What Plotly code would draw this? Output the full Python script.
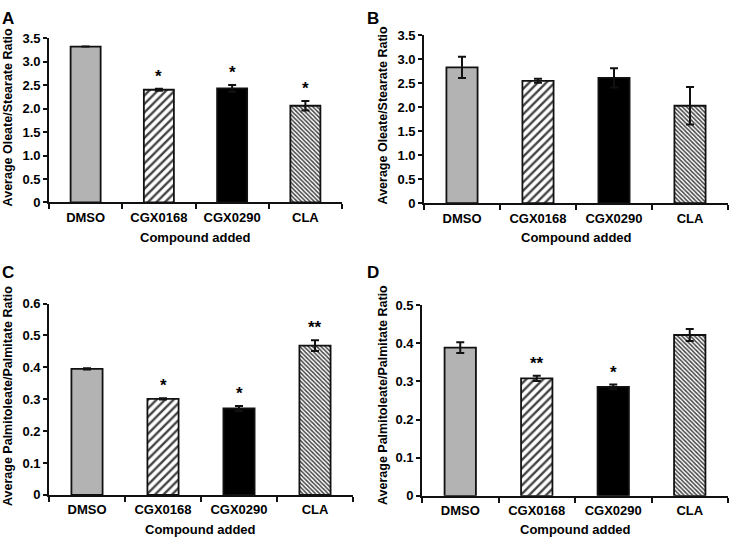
import plotly.graph_objects as go

categories = ["DMSO", "CGX0168", "CGX0290", "CLA"]

a_values = [3.32, 2.40, 2.43, 2.06]
a_errors = [0.0, 0.02, 0.07, 0.10]
a_stars = ["", "*", "*", "*"]

b_values = [2.83, 2.55, 2.61, 2.03]
b_errors = [0.22, 0.04, 0.20, 0.39]
b_stars = ["", "", "", ""]

c_values = [0.395, 0.301, 0.271, 0.468]
c_errors = [0.002, 0.002, 0.008, 0.017]
c_stars = ["", "*", "*", "**"]

d_values = [0.389, 0.308, 0.286, 0.422]
d_errors = [0.014, 0.007, 0.006, 0.016]
d_stars = ["", "**", "*", ""]

oleate_ticks = [0, 0.5, 1.0, 1.5, 2.0, 2.5, 3.0, 3.5]
oleate_ticktext = ["0", "0.5", "1.0", "1.5", "2.0", "2.5", "3.0", "3.5"]
palm_c_ticks = [0, 0.1, 0.2, 0.3, 0.4, 0.5, 0.6]
palm_c_ticktext = ["0", "0.1", "0.2", "0.3", "0.4", "0.5", "0.6"]
palm_d_ticks = [0, 0.1, 0.2, 0.3, 0.4, 0.5]
palm_d_ticktext = ["0", "0.1", "0.2", "0.3", "0.4", "0.5"]

panel_letters = ["A", "B", "C", "D"]
y_titles = ["Average Oleate/Stearate Ratio", "Average Oleate/Stearate Ratio",
            "Average Palmitoleate/Palmitate Ratio", "Average Palmitoleate/Palmitate Ratio"]
x_title = "Compound added"

W, H = 730, 545
FONT = "Liberation Sans, Arial, sans-serif"

fill_colors = ["#b3b3b3", "white", "black", "white"]
pattern_shapes = ["", "/", "", "\\"]
pattern_sizes = [8, 6, 8, 3]
pattern_solidity = [0.3, 0.4, 0.3, 0.5]

# pixel geometry of each panel: (x0, x1, ytop, ybottom)
panels_px = [
    (49, 342, 32, 201),
    (424, 728, 29, 201.7),
    (49, 353, 305, 501.7),
    (422, 728, 306.7, 502.7),
]
ranges = [(0, 3.5), (0, 3.5), (0, 0.6), (0, 0.5)]
tickvals = [oleate_ticks, oleate_ticks, palm_c_ticks, palm_d_ticks]
ticktexts = [oleate_ticktext, oleate_ticktext, palm_c_ticktext, palm_d_ticktext]
datasets = [
    (a_values, a_errors, a_stars),
    (b_values, b_errors, b_stars),
    (c_values, c_errors, c_stars),
    (d_values, d_errors, d_stars),
]
ytitle_px = [(8, 113.5), (383, 111.5), (8, 400), (383, 399)]
letter_px = [(0, 0), (365, 0), (0, 261), (365, 261)]
xtitle_py = [237, 237, 537, 537]

fig = go.Figure()
annotations = []
layout = {}

for i in range(4):
    vals, errs, stars = datasets[i]
    suffix = "" if i == 0 else str(i + 1)
    xa = "x" + suffix
    ya = "y" + suffix
    fig.add_trace(go.Bar(
        x=categories, y=vals, xaxis=xa, yaxis=ya,
        width=0.41,
        marker=dict(
            color=fill_colors,
            line=dict(color="#111", width=1.8),
            pattern=dict(shape=pattern_shapes, size=pattern_sizes,
                         solidity=pattern_solidity, fgcolor="black",
                         fgopacity=1, bgcolor=fill_colors, fillmode="overlay"),
        ),
        error_y=dict(type="data", array=errs, visible=True,
                     color="#111", thickness=2, width=4),
        showlegend=False, hoverinfo="skip",
    ))
    x0, x1, yt, yb = panels_px[i]
    layout["xaxis" + suffix] = dict(
        domain=[x0 / W, x1 / W], anchor=ya,
        type="category", range=[-0.5, 3.5],
        showline=True, linecolor="#111", linewidth=1.8,
        ticks="outside", tickson="boundaries", ticklen=5, tickwidth=1.8,
        tickcolor="#111",
        tickfont=dict(family=FONT, size=13, color="black", weight="bold"),
        showgrid=False, zeroline=False, ticklabelstandoff=2,
    )
    layout["yaxis" + suffix] = dict(
        domain=[1 - yb / H, 1 - yt / H], anchor=xa,
        range=list(ranges[i]),
        tickvals=tickvals[i], ticktext=ticktexts[i],
        showline=True, linecolor="#111", linewidth=1.8,
        ticks="outside", ticklen=4, tickwidth=1.8, tickcolor="#111",
        tickfont=dict(family=FONT, size=13, color="black", weight="bold"),
        showgrid=False, zeroline=False,
    )
    for j, s in enumerate(stars):
        if s:
            annotations.append(dict(
                x=categories[j], y=vals[j] + errs[j], xref=xa, yref=ya,
                text=s, showarrow=False, yanchor="bottom", yshift=1,
                font=dict(family=FONT, size=17, color="black", weight="bold"),
            ))
    tx, ty = ytitle_px[i]
    annotations.append(dict(
        x=tx / W, y=1 - ty / H, xref="paper", yref="paper",
        text=y_titles[i], textangle=-90, showarrow=False,
        xanchor="center", yanchor="middle",
        font=dict(family=FONT, size=12.5, color="black", weight="bold"),
    ))
    annotations.append(dict(
        x=(x0 + x1) / 2 / W, y=1 - xtitle_py[i] / H, xref="paper", yref="paper",
        text=x_title, showarrow=False, xanchor="center", yanchor="middle",
        font=dict(family=FONT, size=13, color="black", weight="bold"),
    ))
    lx, ly = letter_px[i]
    annotations.append(dict(
        x=lx / W, y=1 - ly / H, xref="paper", yref="paper",
        text=panel_letters[i], showarrow=False, xanchor="left", yanchor="top",
        font=dict(family=FONT, size=17, color="black", weight="bold"),
    ))

fig.update_layout(
    width=W, height=H,
    margin=dict(l=0, r=0, t=0, b=0),
    paper_bgcolor="white", plot_bgcolor="white",
    annotations=annotations, bargap=0.59,
    **layout,
)

fig.write_html(
    "out.html",
    config={"displayModeBar": False},
    post_script="document.body.style.margin='0';document.body.style.overflow='hidden';",
)
